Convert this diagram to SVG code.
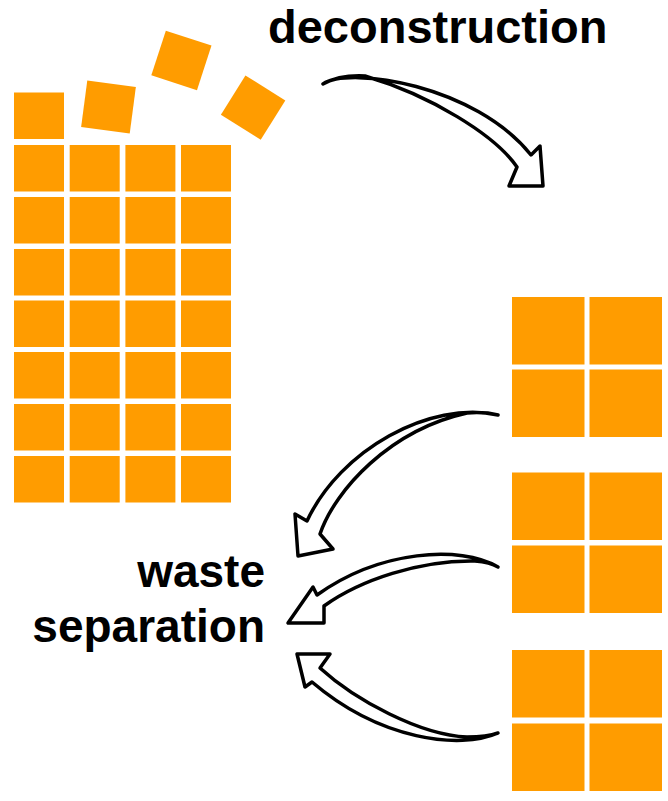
<svg xmlns="http://www.w3.org/2000/svg" width="668" height="801" viewBox="0 0 668 801">
  <style>
    .tile { fill: #FF9C00; }
    .label { font-family: "Liberation Sans", Arial, sans-serif; font-weight: bold; fill: #000; }
    .arrow { fill: #fff; stroke: #000; stroke-width: 3.5; stroke-linejoin: round; }
  </style>
  <defs>
    <rect id="sq" class="tile" width="50" height="46.5"/>
    <rect id="bq" class="tile" width="72.5" height="67.5"/>
  </defs>
  <rect width="668" height="801" fill="#fff"/>

  <!-- Building: stacked block grid -->
  <g id="building">
    <use href="#sq" x="14" y="92.5"/>
    <g id="grid">
      <use href="#sq" x="14" y="145"/><use href="#sq" x="69.7" y="145"/><use href="#sq" x="125.4" y="145"/><use href="#sq" x="181" y="145"/>
      <use href="#sq" x="14" y="197"/><use href="#sq" x="69.7" y="197"/><use href="#sq" x="125.4" y="197"/><use href="#sq" x="181" y="197"/>
      <use href="#sq" x="14" y="249"/><use href="#sq" x="69.7" y="249"/><use href="#sq" x="125.4" y="249"/><use href="#sq" x="181" y="249"/>
      <use href="#sq" x="14" y="300.5"/><use href="#sq" x="69.7" y="300.5"/><use href="#sq" x="125.4" y="300.5"/><use href="#sq" x="181" y="300.5"/>
      <use href="#sq" x="14" y="352"/><use href="#sq" x="69.7" y="352"/><use href="#sq" x="125.4" y="352"/><use href="#sq" x="181" y="352"/>
      <use href="#sq" x="14" y="404"/><use href="#sq" x="69.7" y="404"/><use href="#sq" x="125.4" y="404"/><use href="#sq" x="181" y="404"/>
      <use href="#sq" x="14" y="456"/><use href="#sq" x="69.7" y="456"/><use href="#sq" x="125.4" y="456"/><use href="#sq" x="181" y="456"/>
    </g>
    <!-- loose blocks being lifted off -->
    <rect class="tile" x="-24.5" y="-23.5" width="49" height="47" transform="translate(108.5 107) rotate(7.5)"/>
    <rect class="tile" x="-24" y="-23.5" width="48" height="47" transform="translate(181.4 60.4) rotate(18)"/>
    <rect class="tile" x="-23.5" y="-23.2" width="47" height="46.4" transform="translate(253.1 107.6) rotate(32)"/>
  </g>

  <!-- Sorted material stacks -->
  <g id="stack1">
    <use href="#bq" x="512" y="297"/><use href="#bq" x="589.5" y="297"/>
    <use href="#bq" x="512" y="369.5"/><use href="#bq" x="589.5" y="369.5"/>
  </g>
  <g id="stack2">
    <use href="#bq" x="512" y="472.5"/><use href="#bq" x="589.5" y="472.5"/>
    <use href="#bq" x="512" y="545.5"/><use href="#bq" x="589.5" y="545.5"/>
  </g>
  <g id="stack3">
    <use href="#bq" x="512" y="650"/><use href="#bq" x="589.5" y="650"/>
    <use href="#bq" x="512" y="723.5"/><use href="#bq" x="589.5" y="723.5"/>
  </g>

  <!-- Labels -->
  <g id="label-deconstruction">
    <text class="label" x="268" y="43" font-size="47">deconstruction</text>
  </g>
  <g id="label-waste-separation">
    <text class="label" x="265" y="587" font-size="46" text-anchor="end">waste</text>
    <text class="label" x="265" y="642" font-size="46" text-anchor="end">separation</text>
  </g>

  <!-- Hand-drawn hollow arrows -->
  <g id="connectors">
    <path class="arrow" d="M323,84 C350,66 475,85 531,155 L540,146 L543,186 L509,186 L517,167 C495,135 430,95 365,76 C345,75 332,79 323,84 Z"/>
    <path class="arrow" d="M498,415 C430,400 340,450 307,521 L295,514 L298,556 L333,549 L320,534 C335,490 390,430 467,413 C480,412 490,413 498,415 Z"/>
    <path class="arrow" d="M498,567 C460,545 380,550 317,595 L313,587 L288,623 L324,623 L324,606 C360,580 420,560 475,561 C486,562 493,564 498,567 Z"/>
    <path class="arrow" d="M498,733 C460,750 380,740 312,682 L305,687 L297,654 L330,654 L320,668 C355,700 420,735 467,737 C480,737 490,736 498,733 Z"/>
  </g>
</svg>
